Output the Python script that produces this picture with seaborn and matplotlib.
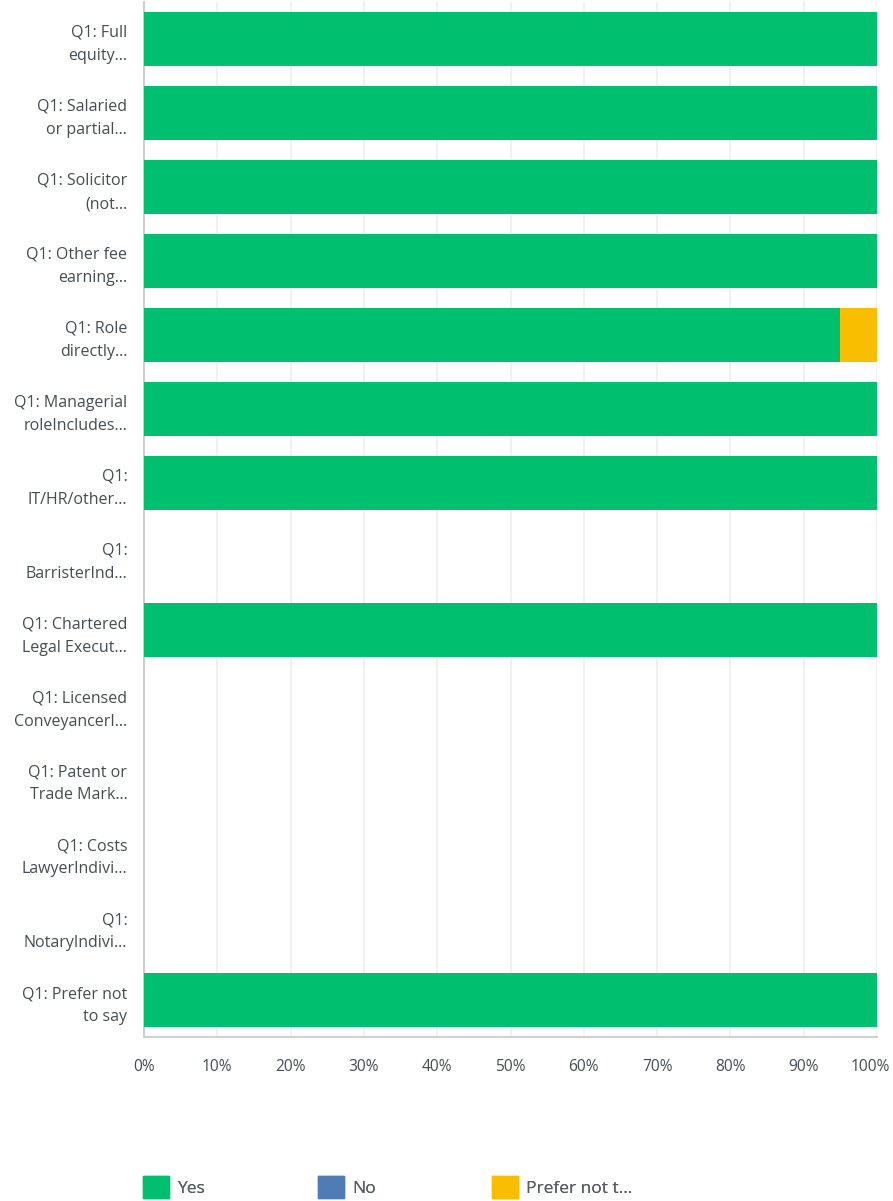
import pandas as pd
import numpy as np
import seaborn as sns
import matplotlib.pyplot as plt
import matplotlib.transforms as mtransforms
from matplotlib.patches import Patch

categories = [
    "Q1: Full\nequity...",
    "Q1: Salaried\nor partial...",
    "Q1: Solicitor\n(not...",
    "Q1: Other fee\nearning...",
    "Q1: Role\ndirectly...",
    "Q1: Managerial\nroleIncludes...",
    "Q1:\nIT/HR/other...",
    "Q1:\nBarristerInd...",
    "Q1: Chartered\nLegal Execut...",
    "Q1: Licensed\nConveyancerI...",
    "Q1: Patent or\nTrade Mark...",
    "Q1: Costs\nLawyerIndivi...",
    "Q1:\nNotaryIndivi...",
    "Q1: Prefer not\nto say",
]
yes = [100, 100, 100, 100, 95, 100, 100, 0, 100, 0, 0, 0, 0, 100]
no = [0, 0, 0, 0, 0, 0, 0, 0, 0, 0, 0, 0, 0, 0]
prefer = [0, 0, 0, 0, 5, 0, 0, 0, 0, 0, 0, 0, 0, 0]

series = ["Yes", "No", "Prefer not t..."]
colors = ["#00bf6f", "#507cb6", "#f9be00"]

df = pd.DataFrame({"cat": categories, "Yes": yes, "No": no, "Prefer": prefer})
df["c1"] = df["Yes"]
df["c2"] = df["Yes"] + df["No"]
df["c3"] = df["c2"] + df["Prefer"]

sns.set_style("white")
plt.rcParams["font.family"] = ["Open Sans", "DejaVu Sans"]

fig = plt.figure(figsize=(8.93, 12.01), dpi=100)
ax = fig.add_axes([144 / 893, 1 - 1037 / 1201, (877 - 144) / 893, 1035 / 1201])

# stacked: draw cumulative totals back to front
for col, c in zip(["c3", "c2", "c1"], colors[::-1]):
    sns.barplot(data=df, y="cat", x=col, color=c, orient="h", width=0.73,
                saturation=1, linewidth=0, ax=ax, zorder=3)

ax.set_xlim(0, 100)
ax.set_xticks(np.arange(0, 101, 10))
ax.set_xticklabels([f"{t}%" for t in range(0, 101, 10)])
ax.set_xlabel("")
ax.set_ylabel("")
ax.grid(axis="x", color="#efefef", linewidth=1.2, zorder=0)
ax.grid(axis="y", visible=False)
for s in ["top", "right"]:
    ax.spines[s].set_visible(False)
ax.spines["left"].set_color("#d0d0d0")
ax.spines["left"].set_linewidth(1.5)
ax.spines["bottom"].set_color("#d0d0d0")
ax.spines["bottom"].set_linewidth(1.5)
ax.tick_params(axis="y", length=0, pad=12, labelsize=11.5, labelcolor="#444c55")
ax.tick_params(axis="x", length=0, pad=16, labelsize=11.2, labelcolor="#444c55")
for lbl in ax.get_yticklabels():
    lbl.set_horizontalalignment("right")
    lbl.set_linespacing(1.6)
# nudge the 100% label so it stays inside the figure
last = ax.get_xticklabels()[-1]
last.set_transform(last.get_transform()
                   + mtransforms.ScaledTranslation(-7 / 100, 0, fig.dpi_scale_trans))

# legend entries
leg_x = [141, 316, 490]
for name, c, lx in zip(series, colors, leg_x):
    h = Patch(facecolor=c, edgecolor=c)
    leg = fig.legend(handles=[h], labels=[name], loc="center left",
                     bbox_to_anchor=(lx / 893 - 0.006, 1 - 1187 / 1201),
                     frameon=False, fontsize=12.5, handlelength=1.5,
                     handleheight=1.5, handletextpad=0.5, borderaxespad=0)
    for t in leg.get_texts():
        t.set_color("#555d66")
    fig.add_artist(leg)

fig.savefig("out.png", dpi=100)
